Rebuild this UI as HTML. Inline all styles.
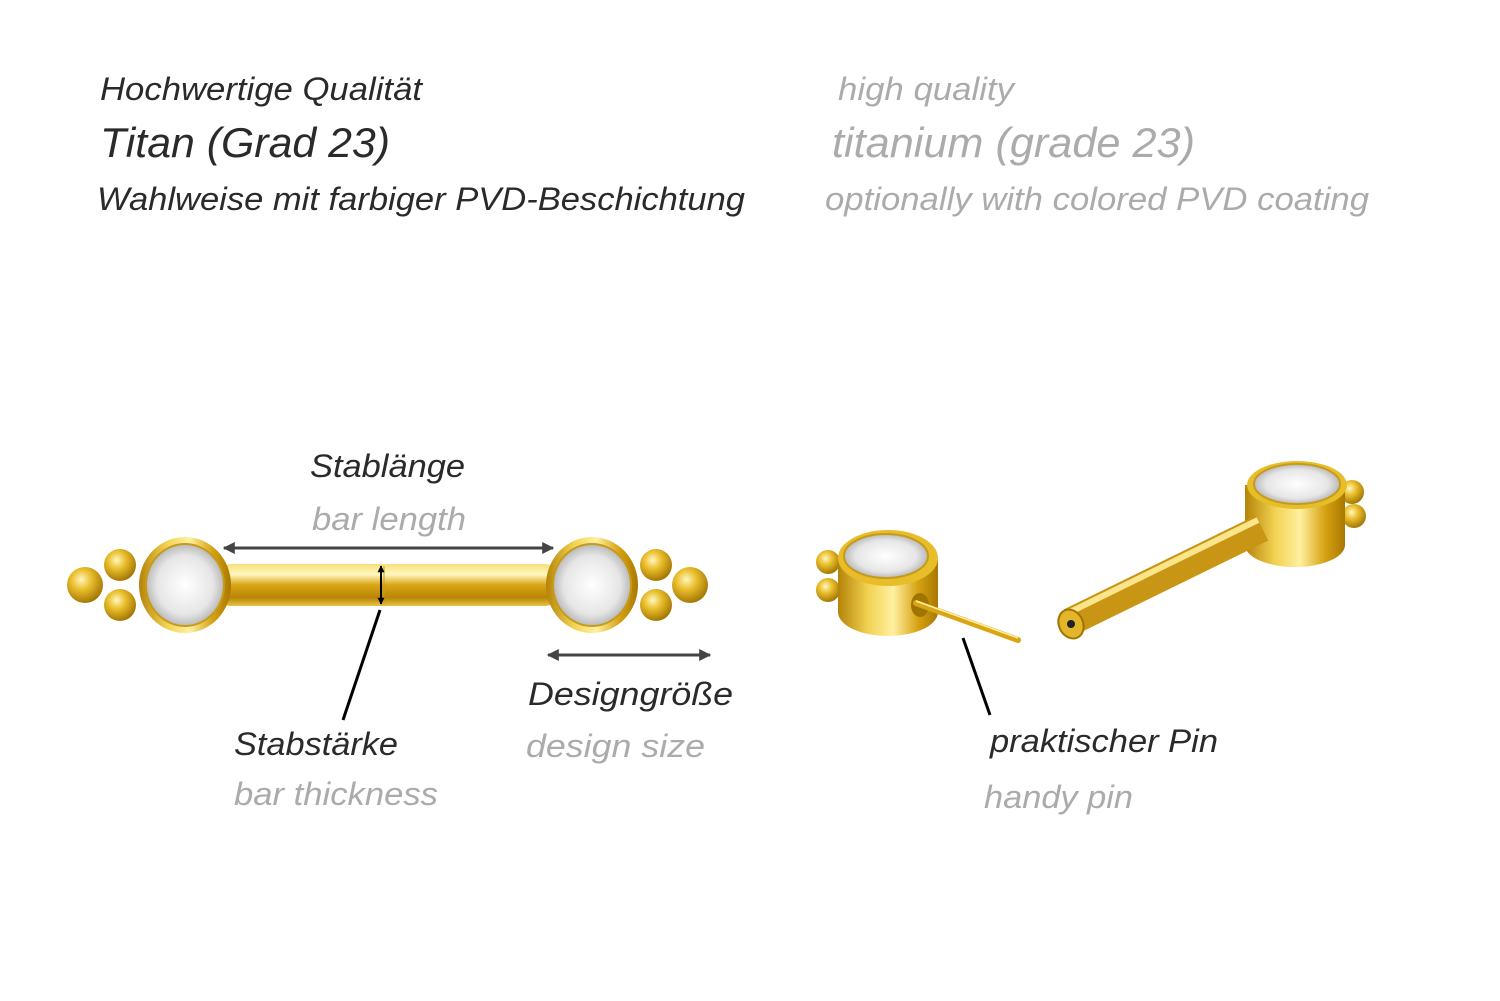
<!DOCTYPE html>
<html><head><meta charset="utf-8"><style>
html,body{margin:0;padding:0;background:#fff;}
svg{display:block;}
text{font-family:"Liberation Sans",sans-serif;font-style:italic;}
.d{fill:#2a2a2a}.g{fill:#ababab}
</style></head><body>
<svg width="1500" height="1001" viewBox="0 0 1500 1001" xmlns="http://www.w3.org/2000/svg">
<defs>
<linearGradient id="gv" x1="0" y1="0" x2="0" y2="1">
<stop offset="0" stop-color="#f7e07a"/><stop offset="0.25" stop-color="#fff6c0"/><stop offset="0.5" stop-color="#d9a514"/><stop offset="0.8" stop-color="#b88509"/><stop offset="1" stop-color="#e9c443"/></linearGradient>
<linearGradient id="gh" x1="0" y1="0" x2="1" y2="0">
<stop offset="0" stop-color="#b48308"/><stop offset="0.3" stop-color="#f2d252"/><stop offset="0.55" stop-color="#fff0a0"/><stop offset="0.8" stop-color="#d6a212"/><stop offset="1" stop-color="#a87800"/></linearGradient>
<radialGradient id="ball" cx="0.4" cy="0.35" r="0.7">
<stop offset="0" stop-color="#fff6c0"/><stop offset="0.4" stop-color="#eabf2c"/><stop offset="1" stop-color="#9c6f00"/></radialGradient>
<radialGradient id="gem" cx="0.5" cy="0.5" r="0.6">
<stop offset="0" stop-color="#ffffff"/><stop offset="0.6" stop-color="#e6e6e6"/><stop offset="1" stop-color="#9a9a9a"/></radialGradient>
<marker id="ah" viewBox="0 0 10 10" refX="9" refY="5" markerWidth="4" markerHeight="4" orient="auto-start-reverse"><path d="M0,0L10,5L0,10z" fill="#444"/></marker>
<marker id="ak" viewBox="0 0 10 10" refX="9" refY="5" markerWidth="3.5" markerHeight="3.5" orient="auto-start-reverse"><path d="M0,0L10,5L0,10z" fill="#000"/></marker>
</defs>

<text x="100" y="100" font-size="32" class="d" textLength="322" lengthAdjust="spacingAndGlyphs">Hochwertige Qualität</text>
<text x="100" y="157" font-size="42" class="d" textLength="290" lengthAdjust="spacingAndGlyphs">Titan (Grad 23)</text>
<text x="97" y="210" font-size="32" class="d" textLength="648" lengthAdjust="spacingAndGlyphs">Wahlweise mit farbiger PVD-Beschichtung</text>
<text x="838" y="100" font-size="32" class="g" textLength="176" lengthAdjust="spacingAndGlyphs">high quality</text>
<text x="832" y="157" font-size="42" class="g" textLength="363" lengthAdjust="spacingAndGlyphs">titanium (grade 23)</text>
<text x="825" y="210" font-size="32" class="g" textLength="544" lengthAdjust="spacingAndGlyphs">optionally with colored PVD coating</text>

<!-- barbell -->
<rect x="222" y="564" width="332" height="42" rx="8" fill="url(#gv)"/>
<line x1="384" y1="566" x2="384" y2="604" stroke="#c79b1a" stroke-width="1"/>
<circle cx="120" cy="565" r="16" fill="url(#ball)"/>
<circle cx="120" cy="605" r="16" fill="url(#ball)"/>
<circle cx="85" cy="585" r="18" fill="url(#ball)"/>
<circle cx="656" cy="565" r="16" fill="url(#ball)"/>
<circle cx="656" cy="605" r="16" fill="url(#ball)"/>
<circle cx="690" cy="585" r="18" fill="url(#ball)"/>
<ellipse cx="185" cy="585" rx="46" ry="48" fill="url(#gh)"/>
<ellipse cx="185" cy="585" rx="39" ry="41" fill="url(#gem)" stroke="#c79b1a" stroke-width="2"/>
<ellipse cx="592" cy="585" rx="46" ry="48" fill="url(#gh)"/>
<ellipse cx="592" cy="585" rx="39" ry="41" fill="url(#gem)" stroke="#c79b1a" stroke-width="2"/>

<line x1="224" y1="548" x2="553" y2="548" stroke="#444" stroke-width="3" marker-start="url(#ah)" marker-end="url(#ah)"/>
<line x1="381" y1="566" x2="381" y2="604" stroke="#000" stroke-width="2" marker-start="url(#ak)" marker-end="url(#ak)"/>
<line x1="380" y1="610" x2="343" y2="720" stroke="#000" stroke-width="3"/>
<line x1="548" y1="655" x2="710" y2="655" stroke="#444" stroke-width="3" marker-start="url(#ah)" marker-end="url(#ah)"/>

<text x="310" y="477" font-size="32" class="d" textLength="155" lengthAdjust="spacingAndGlyphs">Stablänge</text>
<text x="312" y="530" font-size="32" class="g" textLength="154" lengthAdjust="spacingAndGlyphs">bar length</text>
<text x="528" y="705" font-size="32" class="d" textLength="205" lengthAdjust="spacingAndGlyphs">Designgröße</text>
<text x="526" y="757" font-size="32" class="g" textLength="179" lengthAdjust="spacingAndGlyphs">design size</text>
<text x="234" y="755" font-size="32" class="d" textLength="164" lengthAdjust="spacingAndGlyphs">Stabstärke</text>
<text x="234" y="805" font-size="32" class="g" textLength="204" lengthAdjust="spacingAndGlyphs">bar thickness</text>

<!-- right: left head -->
<circle cx="828" cy="562" r="12" fill="url(#ball)"/>
<circle cx="828" cy="590" r="12" fill="url(#ball)"/>
<path d="M838,560 L838,612 A50,24 0 0 0 938,612 L938,560 Z" fill="url(#gh)"/>
<ellipse cx="888" cy="558" rx="50" ry="28" fill="#e8bd2a"/>
<ellipse cx="886" cy="556" rx="42" ry="22" fill="url(#gem)" stroke="#c79b1a" stroke-width="2"/>
<ellipse cx="920" cy="605" rx="9" ry="12" fill="#a07400"/>
<line x1="916" y1="603" x2="1018" y2="640" stroke="#d9a514" stroke-width="6" stroke-linecap="round"/>
<line x1="916" y1="601" x2="1018" y2="638" stroke="#fff0a0" stroke-width="1.5"/>
<line x1="963" y1="638" x2="990" y2="715" stroke="#000" stroke-width="3"/>

<!-- right: right part -->
<circle cx="1352" cy="492" r="12" fill="url(#ball)"/>
<circle cx="1354" cy="516" r="12" fill="url(#ball)"/>
<path d="M1245,485 L1245,545 A50,22 0 0 0 1345,545 L1345,485 Z" fill="url(#gh)"/>
<ellipse cx="1297" cy="485" rx="50" ry="24" fill="#e8bd2a"/>
<ellipse cx="1297" cy="484" rx="43" ry="20" fill="url(#gem)" stroke="#c79b1a" stroke-width="2"/>
<line x1="1070" y1="622" x2="1262" y2="528" stroke="#c89614" stroke-width="28"/>
<line x1="1066" y1="614" x2="1258" y2="520" stroke="#fbe58a" stroke-width="6"/>
<ellipse cx="1071" cy="624" rx="12" ry="15" transform="rotate(-26 1071 624)" fill="#e2b52a" stroke="#a07400" stroke-width="2"/>
<circle cx="1071" cy="624" r="4" fill="#222"/>

<text x="990" y="752" font-size="32" class="d" textLength="228" lengthAdjust="spacingAndGlyphs">praktischer Pin</text>
<text x="984" y="808" font-size="32" class="g" textLength="149" lengthAdjust="spacingAndGlyphs">handy pin</text>
</svg>
</body></html>
